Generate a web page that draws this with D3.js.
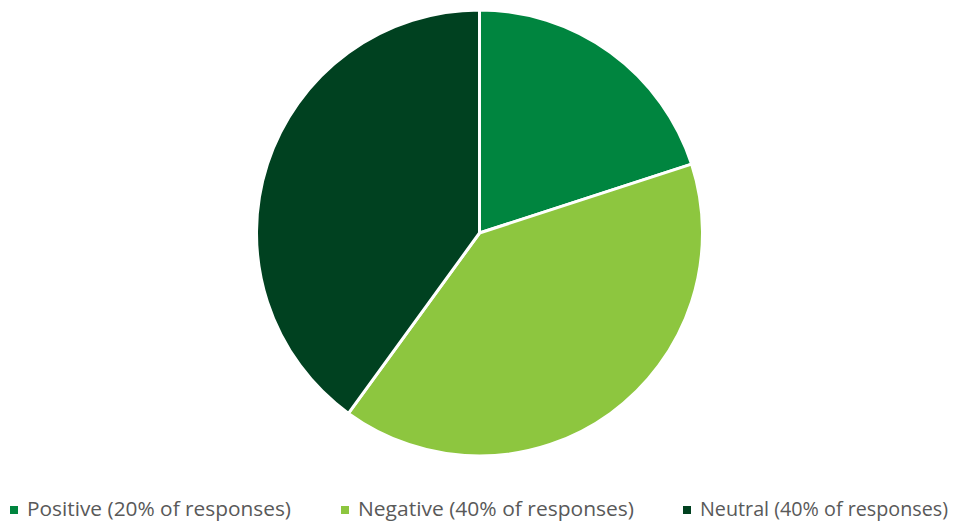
<!DOCTYPE html>
<html><head><meta charset="utf-8">
<script src="https://cdn.jsdelivr.net/npm/d3@7"></script>
<style>html,body{margin:0;padding:0;background:#fff;}svg{display:block;}</style>
</head><body>
<svg id="c" width="964" height="522"></svg>
<script>
const categories = ["Positive", "Negative", "Neutral"];
const values = [20, 40, 40];
const labels = ["Positive (20% of responses)", "Negative (40% of responses)", "Neutral (40% of responses)"];
const colors = ["#00853F", "#8DC63F", "#004120"];

const svg = d3.select("#c");
const cx = 479.5, cy = 233, r = 223;
const pie = d3.pie().sort(null).value(d => d)(values);
const arc = d3.arc().innerRadius(0).outerRadius(r);
const g = svg.append("g").attr("transform", `translate(${cx},${cy})`);
g.selectAll("path").data(pie).join("path")
  .attr("d", arc)
  .attr("fill", (d, i) => colors[i])
  .attr("stroke", "#fff")
  .attr("stroke-width", 3)
  .attr("stroke-linejoin", "round");

const legendX = [10, 341, 683];
const textW = [264, 276, 248];
const lg = svg.append("g");
categories.forEach((c, i) => {
  lg.append("rect").attr("x", legendX[i]).attr("y", 506).attr("width", 8).attr("height", 8).attr("fill", colors[i]);
  lg.append("text").attr("x", legendX[i] + 17).attr("y", 516)
    .attr("font-family", "'Open Sans', sans-serif").attr("font-size", 20)
    .attr("textLength", textW[i]).attr("lengthAdjust", "spacingAndGlyphs")
    .attr("fill", "#595959").text(labels[i]);
});
</script>
</body></html>
